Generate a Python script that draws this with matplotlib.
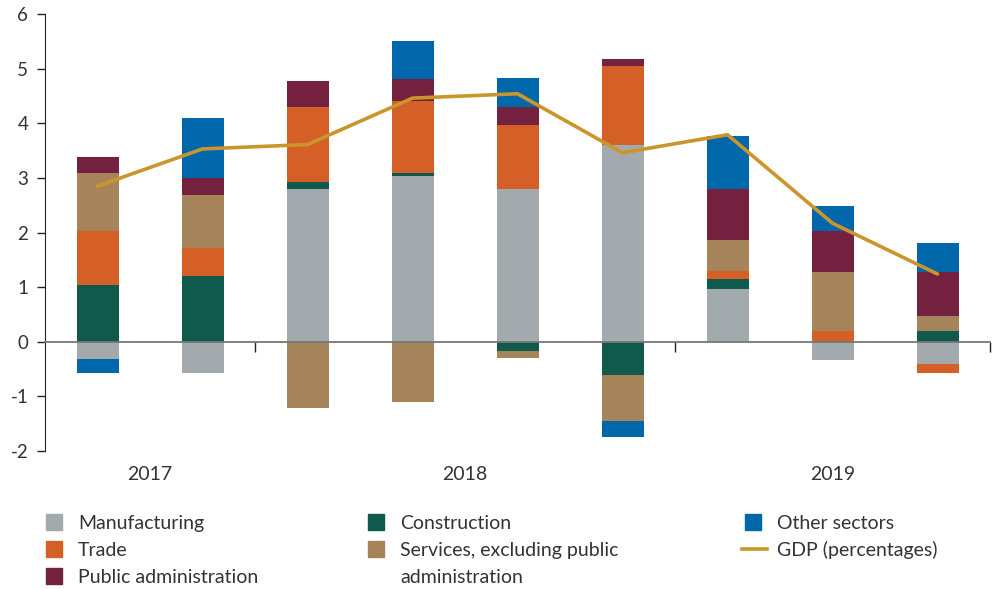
import numpy as np
import matplotlib
matplotlib.use("Agg")
import matplotlib.pyplot as plt
from matplotlib.patches import Rectangle
from matplotlib.lines import Line2D
from matplotlib.transforms import blended_transform_factory

plt.rcParams["font.family"] = ["Lato", "DejaVu Sans"]

years = ["2017", "2018", "2019"]
year_pos = [0.5, 3.5, 7.0]
year_breaks = [1.5, 5.5, 8.5]

manufacturing = [-0.32, -0.57, 2.80, 3.04, 2.80, 3.60, 0.96, -0.34, -0.41]
construction = [1.04, 1.20, 0.13, 0.05, -0.17, -0.61, 0.18, 0.0, 0.20]
trade = [0.99, 0.51, 1.36, 1.32, 1.17, 1.45, 0.16, 0.20, -0.16]
services = [1.06, 0.97, -1.21, -1.10, -0.13, -0.84, 0.57, 1.08, 0.27]
public_admin = [0.29, 0.31, 0.49, 0.40, 0.33, 0.13, 0.92, 0.75, 0.81]
other = [-0.25, 1.10, 0.0, 0.70, 0.53, -0.29, 0.97, 0.46, 0.53]
gdp = [2.85, 3.53, 3.61, 4.46, 4.54, 3.46, 3.79, 2.17, 1.24]

series = [
    ("Manufacturing", manufacturing, "#a3aaad"),
    ("Construction", construction, "#10594d"),
    ("Trade", trade, "#d46027"),
    ("Services, excluding public\nadministration", services, "#a5845a"),
    ("Public administration", public_admin, "#73213e"),
    ("Other sectors", other, "#0067aa"),
]
gdp_color = "#ca962c"
text_color = "#333333"

fig = plt.figure(figsize=(9.92, 5.89), dpi=100)
ax = fig.add_axes([45 / 992, 1 - 451 / 589, 945 / 992, 437 / 589])

x = np.arange(len(gdp))
pos_base = np.zeros(len(x))
neg_base = np.zeros(len(x))
for name, vals, col in series:
    v = np.array(vals)
    bottom = np.where(v >= 0, pos_base, neg_base)
    ax.bar(x, v, 0.4, bottom=bottom, color=col, linewidth=0, zorder=1)
    pos_base += np.clip(v, 0, None)
    neg_base += np.clip(v, None, 0)

ax.plot(x, gdp, color=gdp_color, linewidth=2.6, zorder=3, solid_capstyle="round")

ax.set_xlim(-0.5, 8.5)
ax.set_ylim(-2, 6)
ax.set_yticks(range(-2, 7))
ax.set_yticklabels([str(v) for v in range(-2, 7)])
ax.tick_params(axis="y", direction="out", length=6, width=1, colors="#222222",
               labelsize=13.5, labelcolor=text_color, pad=6)

for s in ["top", "right"]:
    ax.spines[s].set_visible(False)
ax.spines["left"].set_color("#222222")
ax.spines["bottom"].set_position(("data", 0))
ax.spines["bottom"].set_color("#777777")
ax.spines["bottom"].set_linewidth(1.3)
ax.set_xticks(year_breaks)
ax.set_xticklabels([])
ax.tick_params(axis="x", direction="out", length=7, width=1, colors="#222222")

tr = blended_transform_factory(ax.transData, ax.transAxes)
for yr, xp in zip(years, year_pos):
    ax.text(xp, -0.054, yr, transform=tr, ha="center", va="center",
            fontsize=14, color=text_color)

# legend, drawn by hand in figure pixels
W, H = 992, 589
legend_items = [
    (46, 522, ["Manufacturing"], series[0][2], "box"),
    (46, 549, ["Trade"], series[2][2], "box"),
    (46, 576, ["Public administration"], series[4][2], "box"),
    (368, 522, ["Construction"], series[1][2], "box"),
    (368, 549, series[3][0].split("\n"), series[3][2], "box"),
    (745, 522, ["Other sectors"], series[5][2], "box"),
    (745, 549, ["GDP (percentages)"], gdp_color, "line"),
]
for px, py, lines, col, kind in legend_items:
    if kind == "box":
        fig.patches.append(Rectangle((px / W, 1 - (py + 8) / H), 16 / W, 16 / H,
                                     transform=fig.transFigure, color=col))
    else:
        fig.lines.append(Line2D([(px - 3) / W, (px + 22) / W], [1 - py / H] * 2,
                                transform=fig.transFigure, color=col, linewidth=2.6))
    for k, line in enumerate(lines):
        fig.text((px + 32) / W, 1 - (py + 7 + 27 * k) / H, line, ha="left",
                 va="baseline", fontsize=14, color=text_color)

fig.savefig("out.png", dpi=100)
